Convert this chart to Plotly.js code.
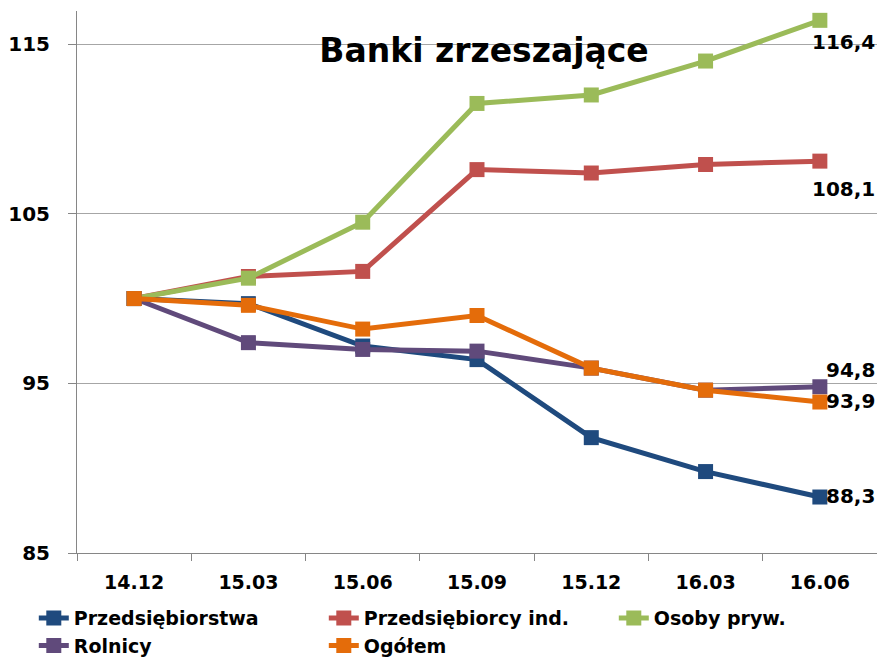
<!DOCTYPE html>
<html>
<head>
<meta charset="utf-8">
<script src="https://cdn.plot.ly/plotly-3.0.1.min.js"></script>
<style>
  html, body { margin: 0; padding: 0; background: #fff; }
  #chart { width: 877px; height: 659px; }
</style>
</head>
<body>
<div id="chart"></div>
<script>
var quarters = ['14.12', '15.03', '15.06', '15.09', '15.12', '16.03', '16.06'];

var seriesNames = ['Przedsiębiorstwa', 'Przedsiębiorcy ind.', 'Osoby pryw.', 'Rolnicy', 'Ogółem'];
var przedsiebiorstwa = [100, 99.7, 97.2, 96.4, 91.8, 89.8, 88.3];
var przedsiebiorcyInd = [100, 101.3, 101.6, 107.6, 107.4, 107.9, 108.1];
var osobyPryw = [100, 101.2, 104.5, 111.5, 112.0, 114.0, 116.4];
var rolnicy = [100, 97.4, 97.0, 96.9, 95.9, 94.6, 94.8];
var ogolem = [100, 99.6, 98.2, 99.0, 95.9, 94.6, 93.9];

var endLabels = ['88,3', '108,1', '116,4', '94,8', '93,9'];

var titleText = 'Banki zrzeszające';
var yTicks = [85, 95, 105, 115];

var colors = ['#1f4a7e', '#c0504d', '#9bbb59', '#604a7b', '#e46c0a'];
var allValues = [przedsiebiorstwa, przedsiebiorcyInd, osobyPryw, rolnicy, ogolem];

var font = 'DejaVu Sans, Verdana, sans-serif';

var traces = allValues.map(function(vals, i) {
  return {
    x: quarters,
    y: vals,
    name: seriesNames[i],
    type: 'scatter',
    mode: 'lines+markers',
    line: {color: colors[i], width: 5},
    marker: {symbol: 'square', size: 15, color: colors[i]},
    cliponaxis: false,
    hoverinfo: 'skip'
  };
});

// label placement for the last point of each series: [xanchor, xshift, yshift]
var labelPos = [
  ['left', 4, 1],
  ['center', 24, -28],
  ['center', 24, -22],
  ['left', 4, 17],
  ['left', 4, 1]
];

var annotations = allValues.map(function(vals, i) {
  var last = vals.length - 1;
  return {
    x: last,
    y: vals[last],
    xref: 'x',
    yref: 'y',
    text: '<b>' + endLabels[i] + '</b>',
    showarrow: false,
    xanchor: labelPos[i][0],
    yanchor: 'middle',
    xshift: labelPos[i][1],
    yshift: labelPos[i][2],
    font: {family: font, size: 20, color: '#000'}
  };
});

var layout = {
  width: 877,
  height: 659,
  margin: {l: 77, r: 0, t: 11, b: 106, autoexpand: false},
  paper_bgcolor: '#fff',
  plot_bgcolor: '#fff',
  title: {
    text: '<b>' + titleText + '</b>',
    font: {family: font, size: 33, color: '#000'},
    xref: 'container',
    yref: 'container',
    x: 484 / 877,
    xanchor: 'center',
    y: 1 - 50 / 659,
    yanchor: 'middle'
  },
  xaxis: {
    type: 'category',
    range: [-0.5, 6.5],
    showgrid: false,
    showline: true,
    linecolor: '#868686',
    linewidth: 1,
    ticks: 'outside',
    tickson: 'boundaries',
    ticklen: 7,
    tickcolor: '#868686',
    ticklabelstandoff: 12,
    tickfont: {family: font, size: 19, color: '#000', weight: 'bold'},
    fixedrange: true
  },
  yaxis: {
    range: [85, 116.95],
    tickvals: yTicks,
    ticktext: yTicks.map(String),
    showgrid: true,
    gridcolor: '#a6a6a6',
    gridwidth: 1,
    showline: true,
    linecolor: '#868686',
    linewidth: 1,
    ticks: 'outside',
    ticklen: 8,
    tickcolor: '#868686',
    ticklabelstandoff: 14,
    zeroline: false,
    tickfont: {family: font, size: 20, color: '#000', weight: 'bold'},
    fixedrange: true
  },
  showlegend: true,
  legend: {
    orientation: 'h',
    x: -0.054,
    xanchor: 'left',
    y: -0.085,
    yanchor: 'top',
    entrywidth: 245,
    entrywidthmode: 'pixels',
    tracegroupgap: 0,
    itemwidth: 30,
    font: {family: font, size: 19, color: '#000', weight: 'bold'},
    bgcolor: 'rgba(0,0,0,0)'
  },
  annotations: annotations
};

Plotly.newPlot('chart', traces, layout, {displayModeBar: false, staticPlot: true});
</script>
</body>
</html>
